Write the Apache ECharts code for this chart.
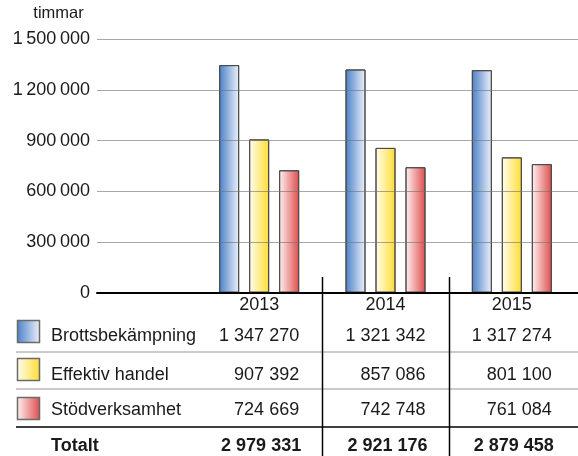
<!DOCTYPE html>
<html>
<head>
<meta charset="utf-8">
<script src="https://cdn.jsdelivr.net/npm/echarts@6/dist/echarts.min.js"></script>
<style>
html, body { margin: 0; padding: 0; background: #fff; }
#main { width: 578px; height: 456px; }
</style>
</head>
<body>
<div id="main"></div>
<script>
var years = ['2013', '2014', '2015'];
var seriesNames = ['Brottsbekämpning', 'Effektiv handel', 'Stödverksamhet'];
var brott = [1347270, 1321342, 1317274];
var effektiv = [907392, 857086, 801100];
var stod = [724669, 742748, 761084];
var totals = [2979331, 2921176, 2879458];
var unitLabel = 'timmar';
var totalLabel = 'Totalt';

var FONT = '"Liberation Sans", Arial, sans-serif';
var TXT = '#1a1a1a';

function fmt(n, sep) {
    return String(n).replace(/\B(?=(\d{3})+(?!\d))/g, sep || ' ');
}

function grad(c0, c1) {
    return new echarts.graphic.LinearGradient(0, 0, 1, 0, [
        {offset: 0, color: c0},
        {offset: 1, color: c1}
    ]);
}
var fills = [
    grad('#4a80c8', '#eef2fa'),   // blå
    grad('#fffdf2', '#ffdd30'),   // gul
    grad('#fff3f3', '#de4c4c')    // röd
];

var myChart = echarts.init(document.getElementById('main'));

var option = {
    backgroundColor: '#fff',
    animation: false,
    grid: [
        {left: 97, right: 0, top: 39.3, bottom: 163.3},
        {left: 196, right: 3, top: 39.3, bottom: 163.3}
    ],
    xAxis: [
        {
            gridIndex: 0, type: 'category', data: [''], z: 5,
            axisLine: {show: true, lineStyle: {color: '#000', width: 2}},
            axisTick: {show: false}, axisLabel: {show: false}, splitLine: {show: false}
        },
        {
            gridIndex: 1, type: 'category', data: years,
            axisLine: {show: false}, axisTick: {show: false},
            axisLabel: {margin: 3, fontSize: 18, color: TXT, fontFamily: FONT}
        }
    ],
    yAxis: [
        {
            gridIndex: 0, type: 'value', min: 0, max: 1500000, interval: 300000,
            z: 5,   // stödlinjerna syns över staplarna
            axisLine: {show: false}, axisTick: {show: false},
            axisLabel: {
                margin: 7, fontSize: 18, color: TXT, fontFamily: FONT,
                formatter: function (v) { return fmt(v, '\u2009'); }
            },
            splitLine: {lineStyle: {color: 'rgba(110,110,110,0.6)', width: 1}}
        },
        {
            gridIndex: 1, type: 'value', min: 0, max: 1500000, interval: 300000,
            show: false, splitLine: {show: false}
        }
    ],
    series: [brott, effektiv, stod].map(function (d, i) {
        return {
            name: seriesNames[i],
            type: 'bar',
            xAxisIndex: 1, yAxisIndex: 1,
            data: d,
            barWidth: 20,
            barGap: '50%',
            itemStyle: {color: fills[i], borderColor: '#4a4a4a', borderWidth: 1}
        };
    })
};
myChart.setOption(option);

// tabell under diagrammet
var rowY = [336, 375, 410];
var iconY = [320, 358, 397];
var g = [];
var cx = years.map(function (y) { return myChart.convertToPixel({xAxisIndex: 1}, y); });

g.push({type: 'text', style: {text: unitLabel, x: 58.5, y: 13, align: 'center', verticalAlign: 'middle',
    fontSize: 16.5, fontFamily: FONT, fill: TXT}});

[352, 389].forEach(function (y) {
    g.push({type: 'line', shape: {x1: 16, y1: y, x2: 578, y2: y}, style: {stroke: '#b8b8b8', lineWidth: 1.5}});
});
g.push({type: 'line', shape: {x1: 16, y1: 427, x2: 578, y2: 427}, style: {stroke: '#000', lineWidth: 1.5}});
for (var k = 0; k < cx.length - 1; k++) {
    var bx = Math.round((cx[k] + cx[k + 1]) / 2) + 0.5;
    g.push({type: 'line', shape: {x1: bx, y1: 277, x2: bx, y2: 456}, style: {stroke: '#000', lineWidth: 1.5}});
}

var rows = [brott, effektiv, stod];
rows.forEach(function (d, i) {
    g.push({type: 'rect', shape: {x: 17.5, y: iconY[i] + 0.5, width: 22, height: 22},
        style: {fill: fills[i], stroke: '#6a6a6a', lineWidth: 1.5}});
    g.push({type: 'text', style: {text: seriesNames[i], x: 51, y: rowY[i], verticalAlign: 'middle',
        fontSize: 18, fontFamily: FONT, fill: TXT}});
    d.forEach(function (v, j) {
        g.push({type: 'text', style: {text: fmt(v), x: cx[j] + 40, y: rowY[i], align: 'right',
            verticalAlign: 'middle', fontSize: 18, fontFamily: FONT, fill: TXT}});
    });
});
g.push({type: 'text', style: {text: totalLabel, x: 51, y: 446, verticalAlign: 'middle',
    fontSize: 18, fontWeight: 'bold', fontFamily: FONT, fill: TXT}});
totals.forEach(function (v, j) {
    g.push({type: 'text', style: {text: fmt(v), x: cx[j] + 42, y: 446, align: 'right',
        verticalAlign: 'middle', fontSize: 18, fontWeight: 'bold', fontFamily: FONT, fill: TXT}});
});

myChart.setOption({graphic: g});
</script>
</body>
</html>
